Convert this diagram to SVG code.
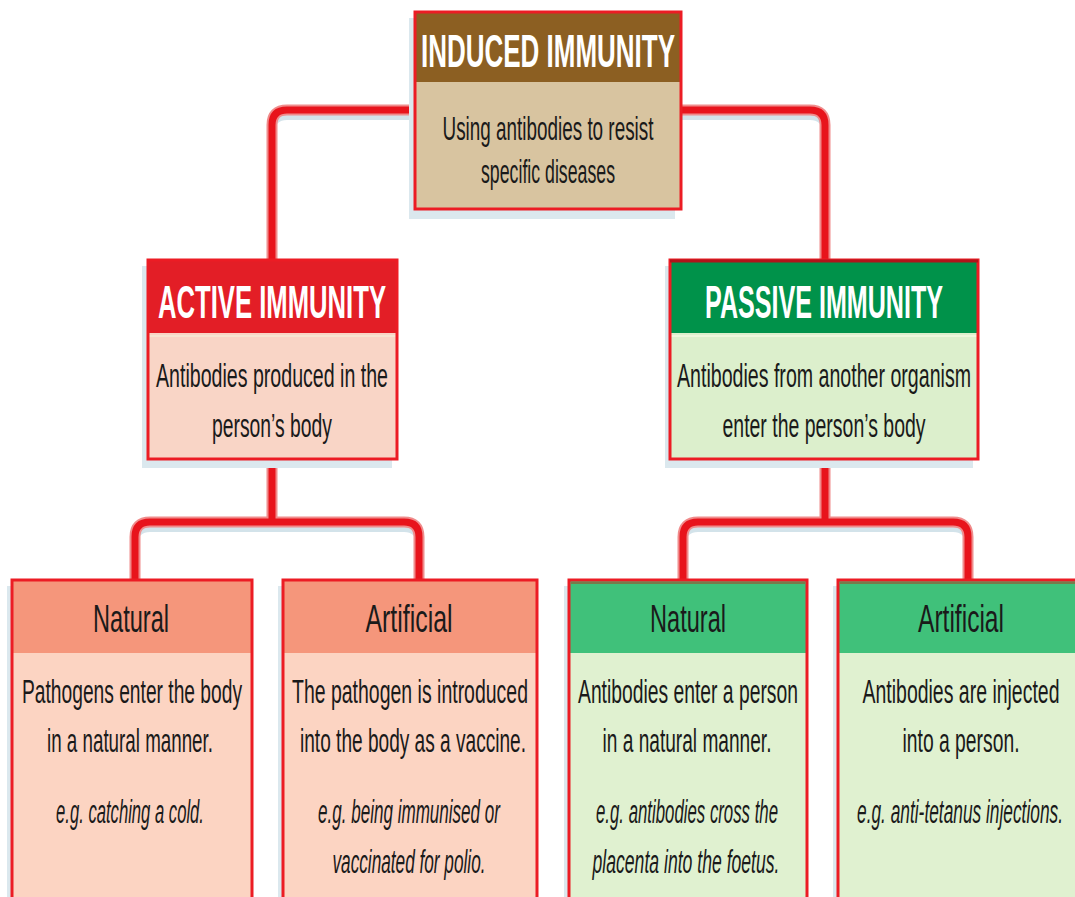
<svg xmlns="http://www.w3.org/2000/svg" width="1075" height="897" viewBox="0 0 1075 897">
<style>
.shadow{fill:#dbe8ee}
.box{stroke:#ec1c24;stroke-width:3}
.t{font-family:"Liberation Sans Narrow","Liberation Sans",Arial,sans-serif;text-anchor:middle}
.title{font-size:47px;font-weight:bold;fill:#ffffff}
.sub{font-size:39px;fill:#1a1a1a}
.body{font-size:33px;fill:#1a1a1a}
.it{font-style:italic}
.c-sh{fill:none;stroke:#d3e3ea;stroke-width:6}
.c-out{fill:none;stroke:#f08c8c;stroke-width:11}
.c-in{fill:none;stroke:#e8141c;stroke-width:7}
</style>
<rect width="1075" height="897" fill="#ffffff"/>
<g id="connectors">
<g transform="translate(0,7)">
<path class="c-sh" d="M415,110 H287 Q272,110 272,125 V260 M681,110 H810 Q825,110 825,125 V260"/>
<path class="c-sh" d="M135,580 V537 Q135,522 150,522 H404 Q419,522 419,537 V580"/>
<path class="c-sh" d="M683,580 V537 Q683,522 698,522 H953 Q968,522 968,537 V580"/>
</g>
<path class="c-out" d="M415,110 H287 Q272,110 272,125 V260 M681,110 H810 Q825,110 825,125 V260"/>
<path class="c-out" d="M272,459 V522 M135,580 V537 Q135,522 150,522 H404 Q419,522 419,537 V580"/>
<path class="c-out" d="M825,459 V522 M683,580 V537 Q683,522 698,522 H953 Q968,522 968,537 V580"/>
<path class="c-in" d="M415,110 H287 Q272,110 272,125 V260 M681,110 H810 Q825,110 825,125 V260"/>
<path class="c-in" d="M272,459 V522 M135,580 V537 Q135,522 150,522 H404 Q419,522 419,537 V580"/>
<path class="c-in" d="M825,459 V522 M683,580 V537 Q683,522 698,522 H953 Q968,522 968,537 V580"/>
</g>
<g id="induced">
<rect class="shadow" x="409" y="18" width="266" height="201"/>
<rect x="415" y="12" width="266" height="70" fill="#8c5f22"/>
<rect x="415" y="82" width="266" height="127" fill="#d8c4a0"/>
<rect class="box" x="415" y="12" width="266" height="197" fill="none"/>
<text class="t title" x="548" y="67" textLength="254" lengthAdjust="spacingAndGlyphs">INDUCED IMMUNITY</text>
<text class="t body" x="548" y="140" textLength="211" lengthAdjust="spacingAndGlyphs">Using antibodies to resist</text>
<text class="t body" x="548" y="183" textLength="134" lengthAdjust="spacingAndGlyphs">specific diseases</text>
</g>
<g id="active">
<rect class="shadow" x="142" y="266" width="250" height="202"/>
<rect x="148" y="260" width="249" height="73" fill="#e31e26"/>
<rect x="148" y="333" width="249" height="126" fill="#f9d5c6"/>
<line x1="149" y1="336" x2="396" y2="336" stroke="#f6e6d2" stroke-width="2"/>
<rect class="box" x="148" y="260" width="249" height="199" fill="none"/>
<text class="t title" x="272" y="318" textLength="228" lengthAdjust="spacingAndGlyphs">ACTIVE IMMUNITY</text>
<text class="t body" x="272" y="387" textLength="232" lengthAdjust="spacingAndGlyphs">Antibodies produced in the</text>
<text class="t body" x="272" y="437" textLength="120" lengthAdjust="spacingAndGlyphs">person’s body</text>
</g>
<g id="passive">
<rect class="shadow" x="665" y="266" width="308" height="202"/>
<rect x="670" y="260" width="308" height="73" fill="#00924a"/>
<rect x="670" y="333" width="308" height="126" fill="#dcefcc"/>
<line x1="671" y1="336" x2="977" y2="336" stroke="#eef6dc" stroke-width="2"/>
<rect class="box" x="670" y="260" width="308" height="199" fill="none"/>
<line x1="670" y1="261" x2="978" y2="261" stroke="#b0141a" stroke-width="3"/>
<text class="t title" x="824" y="318" textLength="238" lengthAdjust="spacingAndGlyphs">PASSIVE IMMUNITY</text>
<text class="t body" x="824" y="387" textLength="294" lengthAdjust="spacingAndGlyphs">Antibodies from another organism</text>
<text class="t body" x="824" y="437" textLength="203" lengthAdjust="spacingAndGlyphs">enter the person’s body</text>
</g>
<g id="active-natural">
<rect class="shadow" x="7" y="586" width="240" height="320"/>
<rect x="12" y="580" width="240" height="73" fill="#f5967b"/>
<rect x="12" y="653" width="240" height="250" fill="#fcd4c2"/>
<rect class="box" x="12" y="580" width="240" height="330" fill="none"/>
<text class="t sub" x="131" y="632" textLength="76" lengthAdjust="spacingAndGlyphs">Natural</text>
<text class="t body" x="132" y="703" textLength="220" lengthAdjust="spacingAndGlyphs">Pathogens enter the body</text>
<text class="t body" x="130" y="752" textLength="166" lengthAdjust="spacingAndGlyphs">in a natural manner.</text>
<text class="t body it" x="130" y="823" textLength="148" lengthAdjust="spacingAndGlyphs">e.g. catching a cold.</text>
</g>
<g id="active-artificial">
<rect class="shadow" x="278" y="586" width="254" height="320"/>
<rect x="283" y="580" width="254" height="73" fill="#f5967b"/>
<rect x="283" y="653" width="254" height="250" fill="#fcd4c2"/>
<rect class="box" x="283" y="580" width="254" height="330" fill="none"/>
<text class="t sub" x="409" y="632" textLength="87" lengthAdjust="spacingAndGlyphs">Artificial</text>
<text class="t body" x="410" y="703" textLength="236" lengthAdjust="spacingAndGlyphs">The pathogen is introduced</text>
<text class="t body" x="413" y="752" textLength="226" lengthAdjust="spacingAndGlyphs">into the body as a vaccine.</text>
<text class="t body it" x="409" y="823" textLength="182" lengthAdjust="spacingAndGlyphs">e.g. being immunised or</text>
<text class="t body it" x="409" y="873" textLength="153" lengthAdjust="spacingAndGlyphs">vaccinated for polio.</text>
</g>
<g id="passive-natural">
<rect class="shadow" x="564" y="586" width="238" height="320"/>
<rect x="569" y="580" width="238" height="73" fill="#40c17a"/>
<rect x="569" y="653" width="238" height="250" fill="#e0f1d0"/>
<rect class="box" x="569" y="580" width="238" height="330" fill="none"/>
<line x1="571" y1="583" x2="805" y2="583" stroke="#7a7a4a" stroke-width="2"/>
<text class="t sub" x="688" y="632" textLength="76" lengthAdjust="spacingAndGlyphs">Natural</text>
<text class="t body" x="688" y="703" textLength="220" lengthAdjust="spacingAndGlyphs">Antibodies enter a person</text>
<text class="t body" x="687" y="752" textLength="169" lengthAdjust="spacingAndGlyphs">in a natural manner.</text>
<text class="t body it" x="687" y="823" textLength="182" lengthAdjust="spacingAndGlyphs">e.g. antibodies cross the</text>
<text class="t body it" x="686" y="873" textLength="187" lengthAdjust="spacingAndGlyphs">placenta into the foetus.</text>
</g>
<g id="passive-artificial">
<rect class="shadow" x="833" y="586" width="240" height="320"/>
<rect x="838" y="580" width="240" height="73" fill="#40c17a"/>
<rect x="838" y="653" width="240" height="250" fill="#e0f1d0"/>
<rect class="box" x="838" y="580" width="240" height="330" fill="none"/>
<line x1="840" y1="583" x2="1075" y2="583" stroke="#7a7a4a" stroke-width="2"/>
<text class="t sub" x="961" y="632" textLength="86" lengthAdjust="spacingAndGlyphs">Artificial</text>
<text class="t body" x="961" y="703" textLength="197" lengthAdjust="spacingAndGlyphs">Antibodies are injected</text>
<text class="t body" x="961" y="752" textLength="117" lengthAdjust="spacingAndGlyphs">into a person.</text>
<text class="t body it" x="960" y="823" textLength="206" lengthAdjust="spacingAndGlyphs">e.g. anti-tetanus injections.</text>
</g>
</svg>
